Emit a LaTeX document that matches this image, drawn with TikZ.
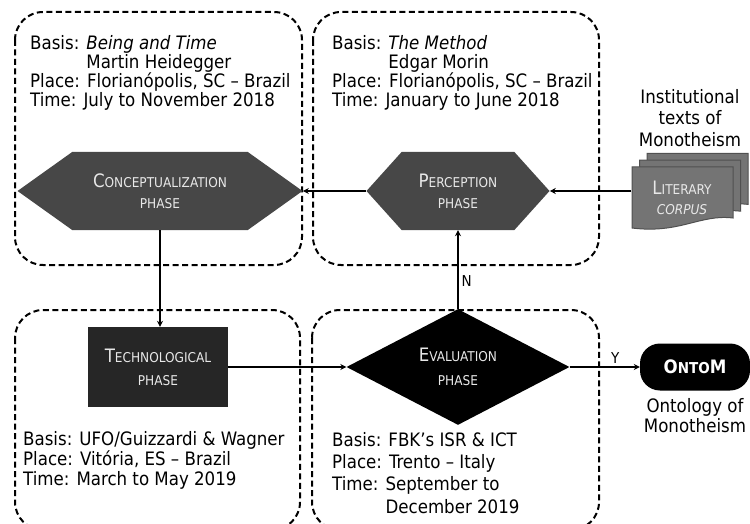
\documentclass[tikz,border=0pt]{standalone}
\usepackage{fontspec}
\setmainfont{DejaVu Sans Condensed}
\usepackage{xcolor}
\definecolor{phaseGray}{HTML}{474747}
\definecolor{techDark}{HTML}{262626}
\definecolor{phaseText}{HTML}{E8E8E8}
\definecolor{docFill}{HTML}{747474}
\definecolor{docBorder}{HTML}{505050}
\usepackage{tikz}
\usetikzlibrary{shapes.geometric,shapes.symbols,arrows.meta,positioning}

\newcommand{\capfirst}[1]{{\fontsize{18.5}{21}\selectfont #1}}
\newcommand{\infofont}{\fontsize{18.5}{19}\selectfont}

\tikzset{
    stage/.style={
        draw=black,
        dash pattern=on 6pt off 3.5pt,
        line width=2pt,
        rounded corners=28pt
    },
    info/.style={
        font=\infofont,
        align=left,
        inner sep=0pt,
        anchor=north west
    },
    hexphase/.style={
        signal,
        signal to=west and east,
        fill=phaseGray,
        text=phaseText,
        minimum height=78pt,
        align=center,
        inner sep=0pt,
        font=\fontsize{13.5}{21}\selectfont
    },
    techphase/.style={
        rectangle,
        fill=techDark,
        text=phaseText,
        minimum width=140pt,
        minimum height=80pt,
        align=center,
        font=\fontsize{13.5}{23}\selectfont
    },
    evalphase/.style={
        diamond,
        fill=black,
        text=phaseText,
        minimum width=223pt,
        minimum height=91pt,
        inner sep=0pt,
        align=center,
        font=\fontsize{13.5}{24}\selectfont
    },
    result/.style={
        rectangle,
        rounded corners=20pt,
        fill=black,
        text=white,
        minimum width=110pt,
        minimum height=47pt,
        font=\bfseries\fontsize{15}{15}\selectfont
    },
    docsheet/.style={
        fill=docFill,
        draw=docBorder,
        line width=1pt
    },
    flow/.style={
        -{Stealth[length=6pt,width=6pt,inset=2pt]},
        line width=1.3pt
    },
    answer/.style={
        font=\fontsize{15}{16}\selectfont,
        inner sep=3pt
    }
}

\begin{document}
\begin{tikzpicture}[x=1pt,y=-1pt]
    \useasboundingbox (0,0) rectangle (750,524);

    % dashed stage frames
    \draw[stage] (15,12) rectangle (302,265);
    \draw[stage] (313,12) rectangle (599,265);
    \draw[stage] (15,310) rectangle (300,530);
    \draw[stage] (312,310) rectangle (599,530);

    % stage details
    \node[info] (infoA) at (30,35.5) {Basis: \textit{Being and Time}\\\phantom{Basis: }Martin Heidegger\\Place: Florianópolis, SC -- Brazil\\Time: July to November 2018};
    \node[info] (infoB) at (332,35.5) {Basis: \textit{The Method}\\\phantom{Basis: }Edgar Morin\\Place: Florianópolis, SC -- Brazil\\Time: January to June 2018};
    \node[info, font=\fontsize{18.5}{20}\selectfont] (infoC) at (23,431.5) {Basis: UFO/Guizzardi \& Wagner\\Place: Vitória, ES -- Brazil\\Time: March to May 2019};
    \node[info, font=\fontsize{18.5}{22.3}\selectfont] (infoD) at (332,432) {Basis: FBK’s ISR \& ICT\\Place: Trento -- Italy\\Time: September to\\\phantom{Time: }December 2019};

    % phases
    \node[hexphase, minimum width=285pt, signal pointer angle=71] (concept) at (160,191) {\capfirst{C}ONCEPTUALIZATION\\PHASE};
    \node[hexphase, minimum width=183pt, signal pointer angle=96] (percep) at (458,191) {\capfirst{P}ERCEPTION\\PHASE};
    \node[techphase] (tech) at (158,367) {\capfirst{T}ECHNOLOGICAL\\PHASE};
    \node[evalphase] (eval) at (458,367) {\capfirst{E}VALUATION\\PHASE};
    \node[result] (ontom) at (695,367) {\capfirst{O}NTO\capfirst{M}};
    \node[font=\fontsize{18.5}{20}\selectfont, align=center, below=4pt of ontom] (ontomtxt) {Ontology of\\Monotheism};

    % literary corpus (stacked documents)
    \foreach \d in {16,8,0}{
        \path[docsheet, shift={(0.95*\d,-0.85*\d)}] (632,167) -- (733,167) -- (733,218)
            .. controls (700,214) and (680,234) .. (632,228) -- cycle;
    }
    \node[minimum width=101pt, inner sep=0pt, align=center, text=phaseText,
          font=\fontsize{13.5}{20}\selectfont] (corpus) at (682,198) {\capfirst{L}ITERARY\\\textit{CORPUS}};
    \node[font=\fontsize{18.5}{21.5}\selectfont, align=center] (corpustxt) at (690,118) {Institutional\\texts of\\Monotheism};

    % flow
    \draw[flow] (corpus.west |- percep) -- (percep.east);
    \draw[flow] (percep.west) -- (concept.east);
    \draw[flow] (concept.south) -- (concept.south |- tech.north);
    \draw[flow] (tech.east) -- (eval.west);
    \draw[flow] (eval.north) -- node[answer, right, pos=0.35] {N} (percep.south);
    \draw[flow] (eval.east) -- node[answer, above, pos=0.65] {Y} (ontom.west);
\end{tikzpicture}
\end{document}
